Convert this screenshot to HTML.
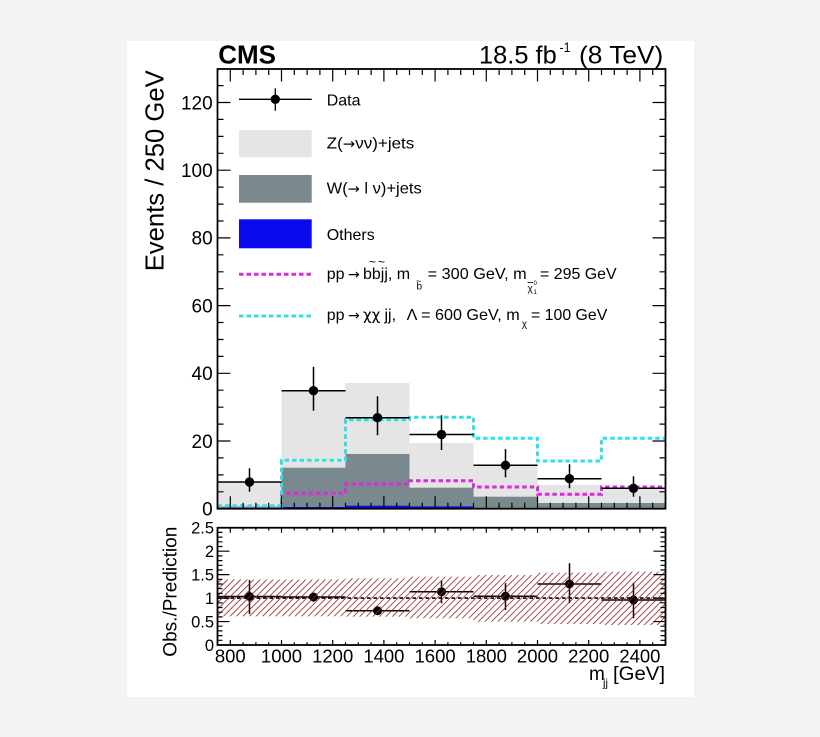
<!DOCTYPE html>
<html><head><meta charset="utf-8"><style>
html,body{margin:0;padding:0;background:#f3f3f3;}
svg{display:block;font-family:"Liberation Sans","DejaVu Sans",sans-serif;}
</style></head><body>
<svg width="820" height="737" viewBox="0 0 820 737" xmlns="http://www.w3.org/2000/svg">
<defs>
<pattern id="hatch" width="4.6" height="4.6" patternUnits="userSpaceOnUse" patternTransform="rotate(45)">
<line x1="0" y1="0" x2="0" y2="4.6" stroke="#8e2424" stroke-width="1.6"/>
</pattern>
</defs>
<rect x="0" y="0" width="820" height="737" fill="#f3f3f3"/>
<rect x="127" y="41" width="567" height="656" fill="#ffffff"/>

<!-- ===== MAIN PLOT ===== -->
<g fill="#e5e5e5">
<rect x="217.5" y="482.5" width="64" height="26.2"/>
<rect x="281.5" y="390.3" width="64" height="118.4"/>
<rect x="345.5" y="383" width="64" height="125.7"/>
<rect x="409.5" y="443" width="64" height="65.7"/>
<rect x="473.5" y="465.5" width="64" height="43.2"/>
<rect x="537.5" y="485" width="64" height="23.7"/>
<rect x="601.5" y="489" width="64" height="19.7"/>
</g>
<g fill="#7a898e">
<rect x="217.5" y="506.5" width="64" height="2.2"/>
<rect x="281.5" y="467.7" width="64" height="41"/>
<rect x="345.5" y="454" width="64" height="54.7"/>
<rect x="409.5" y="487.7" width="64" height="21"/>
<rect x="473.5" y="496.7" width="64" height="12"/>
<rect x="537.5" y="503" width="64" height="5.7"/>
<rect x="601.5" y="503" width="64" height="5.7"/>
</g>
<g fill="#0a0ae8">
<rect x="281.5" y="507" width="64" height="1.7"/>
<rect x="345.5" y="505.7" width="64" height="3"/>
<rect x="409.5" y="506.4" width="64" height="2.3"/>
</g>
<path d="M217.5,507.2 H281.5 V493.3 H345.5 V483.7 H409.5 V480.7 H473.5 V487 H537.5 V494.3 H601.5 V487 H665.5" fill="none" stroke="#dc2adc" stroke-width="3" stroke-dasharray="4.5 3"/>
<path d="M217.5,505.7 H281.5 V460.3 H345.5 V419.7 H409.5 V417.3 H473.5 V438.3 H537.5 V461 H601.5 V438.3 H665.5" fill="none" stroke="#2fe0e6" stroke-width="3" stroke-dasharray="4.5 3"/>

<g stroke="#000" stroke-width="1.5">
<path d="M217.5,482 H281.5 M249.5,468.3 V491.7
M281.5,390.7 H345.5 M313.5,366.7 V410.7
M345.5,417.7 H409.5 M377.5,396.3 V435.3
M409.5,434.5 H473.5 M441.5,415.3 V450
M473.5,465.3 H537.5 M505.5,449 V477.3
M537.5,478.7 H601.5 M569.5,464.3 V488.3
M601.5,488.3 H665.5 M633.5,476.3 V496.7" fill="none"/>
</g>
<g fill="#000">
<circle cx="249.5" cy="482" r="4.7"/>
<circle cx="313.5" cy="390.7" r="4.7"/>
<circle cx="377.5" cy="417.7" r="4.7"/>
<circle cx="441.5" cy="434.5" r="4.7"/>
<circle cx="505.5" cy="465.3" r="4.7"/>
<circle cx="569.5" cy="478.7" r="4.7"/>
<circle cx="633.5" cy="488.3" r="4.7"/>
</g>

<g stroke="#000" stroke-width="1.2" fill="none">
<path d="M230.3,508.7V496.2 M281.5,508.7V496.2 M332.7,508.7V496.2 M383.9,508.7V496.2 M435.1,508.7V496.2 M486.3,508.7V496.2 M537.5,508.7V496.2 M588.7,508.7V496.2 M639.9,508.7V496.2
M230.3,69V81.5 M281.5,69V81.5 M332.7,69V81.5 M383.9,69V81.5 M435.1,69V81.5 M486.3,69V81.5 M537.5,69V81.5 M588.7,69V81.5 M639.9,69V81.5"/>
<path d="M243.1,508.7V502.7 M255.9,508.7V502.7 M268.7,508.7V502.7 M294.3,508.7V502.7 M307.1,508.7V502.7 M319.9,508.7V502.7 M345.5,508.7V502.7 M358.3,508.7V502.7 M371.1,508.7V502.7 M396.7,508.7V502.7 M409.5,508.7V502.7 M422.3,508.7V502.7 M447.9,508.7V502.7 M460.7,508.7V502.7 M473.5,508.7V502.7 M499.1,508.7V502.7 M511.9,508.7V502.7 M524.7,508.7V502.7 M550.3,508.7V502.7 M563.1,508.7V502.7 M575.9,508.7V502.7 M601.5,508.7V502.7 M614.3,508.7V502.7 M627.1,508.7V502.7 M652.7,508.7V502.7
M243.1,69V75 M255.9,69V75 M268.7,69V75 M294.3,69V75 M307.1,69V75 M319.9,69V75 M345.5,69V75 M358.3,69V75 M371.1,69V75 M396.7,69V75 M409.5,69V75 M422.3,69V75 M447.9,69V75 M460.7,69V75 M473.5,69V75 M499.1,69V75 M511.9,69V75 M524.7,69V75 M550.3,69V75 M563.1,69V75 M575.9,69V75 M601.5,69V75 M614.3,69V75 M627.1,69V75 M652.7,69V75"/>
<path d="M217.5,441H230.5 M217.5,373.3H230.5 M217.5,305.6H230.5 M217.5,237.9H230.5 M217.5,170.2H230.5 M217.5,102.5H230.5
M665.5,441H652.5 M665.5,373.3H652.5 M665.5,305.6H652.5 M665.5,237.9H652.5 M665.5,170.2H652.5 M665.5,102.5H652.5"/>
<path d="M217.5,491.8H223.5 M217.5,474.9H223.5 M217.5,457.9H223.5 M217.5,424.1H223.5 M217.5,407.2H223.5 M217.5,390.2H223.5 M217.5,356.4H223.5 M217.5,339.5H223.5 M217.5,322.5H223.5 M217.5,288.7H223.5 M217.5,271.8H223.5 M217.5,254.8H223.5 M217.5,221H223.5 M217.5,204.1H223.5 M217.5,187.1H223.5 M217.5,153.3H223.5 M217.5,136.4H223.5 M217.5,119.4H223.5 M217.5,85.6H223.5
M665.5,491.8H659.5 M665.5,474.9H659.5 M665.5,457.9H659.5 M665.5,424.1H659.5 M665.5,407.2H659.5 M665.5,390.2H659.5 M665.5,356.4H659.5 M665.5,339.5H659.5 M665.5,322.5H659.5 M665.5,288.7H659.5 M665.5,271.8H659.5 M665.5,254.8H659.5 M665.5,221H659.5 M665.5,204.1H659.5 M665.5,187.1H659.5 M665.5,153.3H659.5 M665.5,136.4H659.5 M665.5,119.4H659.5 M665.5,85.6H659.5"/>
</g>
<rect x="217.5" y="69" width="448" height="439.7" fill="none" stroke="#000" stroke-width="1.8"/>

<!-- legend -->
<path d="M239,99.3 H311.7 M275.3,88.3 V110.7" stroke="#000" stroke-width="1.3" fill="none"/>
<circle cx="275.3" cy="99.3" r="4.7" fill="#000"/>
<rect x="239" y="130" width="72.7" height="27.3" fill="#e5e5e5"/>
<rect x="239" y="175" width="72.7" height="27.7" fill="#7a898e"/>
<rect x="239" y="219.3" width="72.7" height="29" fill="#0a0aee"/>
<line x1="239" y1="274.3" x2="311.7" y2="274.3" stroke="#dc2adc" stroke-width="3" stroke-dasharray="4.5 3"/>
<line x1="239" y1="316" x2="311.7" y2="316" stroke="#2fe0e6" stroke-width="3" stroke-dasharray="4.5 3"/>
<g font-size="16" fill="#000">
<text x="326.7" y="105.5">Data</text>
<text x="326.7" y="148.5" textLength="87.6" lengthAdjust="spacingAndGlyphs">Z(<tspan font-family="DejaVu Sans" font-size="14">→</tspan>νν)+jets</text>
<text x="326.7" y="193.5" textLength="95" lengthAdjust="spacingAndGlyphs">W(<tspan font-family="DejaVu Sans" font-size="14">→</tspan> l ν)+jets</text>
<text x="326.7" y="240">Others</text>
<text x="326.7" y="279">pp</text>
<text x="348" y="279" font-family="DejaVu Sans" font-size="14">→</text>
<text x="363" y="279">bbjj,</text>
<text x="396.7" y="279">m</text>
<text x="427.7" y="279" textLength="99" lengthAdjust="spacingAndGlyphs">= 300 GeV, m</text>
<text x="540" y="279" textLength="76.7" lengthAdjust="spacingAndGlyphs">= 295 GeV</text>
<text x="326.7" y="320">pp</text>
<text x="348" y="320" font-family="DejaVu Sans" font-size="14">→</text>
<text x="363" y="320" font-family="DejaVu Sans" font-size="15">χχ</text>
<text x="384.5" y="320">jj,</text>
<text x="406.7" y="320" textLength="113" lengthAdjust="spacingAndGlyphs">Λ = 600 GeV, m</text>
<text x="531" y="320" textLength="76.3" lengthAdjust="spacingAndGlyphs">= 100 GeV</text>
</g>
<g fill="#000">
<text x="369" y="266" font-size="12">~</text>
<text x="378" y="266" font-size="12">~</text>
<text x="416.5" y="289.5" font-size="10">b</text>
<text x="416" y="284" font-size="9">~</text>
<text x="527.5" y="291.5" font-size="10">χ</text>
<line x1="527.5" y1="282.5" x2="533" y2="282.5" stroke="#000" stroke-width="0.8"/>
<text x="533.5" y="294" font-size="6">1</text>
<text x="533.5" y="285" font-size="6">0</text>
<text x="521.7" y="327" font-size="10">χ</text>
</g>

<!-- header -->
<text x="218.3" y="63.3" font-weight="bold" font-size="26" textLength="57.7" lengthAdjust="spacingAndGlyphs">CMS</text>
<text x="479" y="63.3" font-size="25" textLength="77.7" lengthAdjust="spacingAndGlyphs">18.5 fb</text>
<text x="559.5" y="52" font-size="14" textLength="11" lengthAdjust="spacingAndGlyphs">-1</text>
<text x="579" y="63.3" font-size="25" textLength="84.3" lengthAdjust="spacingAndGlyphs">(8 TeV)</text>

<g font-size="19" text-anchor="end" fill="#000">
<text x="212.7" y="515.5">0</text>
<text x="212.7" y="447.8">20</text>
<text x="212.7" y="380.1">40</text>
<text x="212.7" y="312.4">60</text>
<text x="212.7" y="244.7">80</text>
<text x="212.7" y="177">100</text>
<text x="212.7" y="109.3">120</text>
</g>
<text transform="translate(163.5,170.8) rotate(-90)" text-anchor="middle" font-size="25.6" textLength="201" lengthAdjust="spacingAndGlyphs">Events / 250 GeV</text>

<!-- ===== RATIO PANEL ===== -->
<g fill="#000" stroke="#000" stroke-width="1.5">
<path d="M217.5,596.5 H281.5 M249.5,580 V614
M281.5,597 H345.5 M313.5,593.3 V601.7
M345.5,610.7 H409.5 M377.5,606.7 V615
M409.5,591.7 H473.5 M441.5,580.7 V603.3
M473.5,596.3 H537.5 M505.5,583.3 V610
M537.5,584 H601.5 M569.5,563.3 V603.3
M601.5,600 H665.5 M633.5,582.7 V618.3" fill="none"/>
</g>
<g fill="#000">
<circle cx="249.5" cy="596.5" r="4.5"/>
<circle cx="313.5" cy="597" r="4.5"/>
<circle cx="377.5" cy="610.7" r="4.5"/>
<circle cx="441.5" cy="591.7" r="4.5"/>
<circle cx="505.5" cy="596.3" r="4.5"/>
<circle cx="569.5" cy="584" r="4.5"/>
<circle cx="633.5" cy="600" r="4.5"/>
</g>
<line x1="217.5" y1="598.1" x2="665.5" y2="598.1" stroke="#000" stroke-width="1.6" stroke-dasharray="3.5 3"/>
<g fill="url(#hatch)">
<rect x="217.5" y="579.5" width="128" height="36.8"/>
<rect x="345.5" y="578.3" width="64" height="38.4"/>
<rect x="409.5" y="576.7" width="64" height="41.6"/>
<rect x="473.5" y="575" width="64" height="46.7"/>
<rect x="537.5" y="572.7" width="64" height="51.3"/>
<rect x="601.5" y="571.7" width="64" height="53.3"/>
</g>

<g stroke="#000" stroke-width="1.2" fill="none">
<path d="M230.3,645V640 M281.5,645V640 M332.7,645V640 M383.9,645V640 M435.1,645V640 M486.3,645V640 M537.5,645V640 M588.7,645V640 M639.9,645V640
M230.3,527.75V532.75 M281.5,527.75V532.75 M332.7,527.75V532.75 M383.9,527.75V532.75 M435.1,527.75V532.75 M486.3,527.75V532.75 M537.5,527.75V532.75 M588.7,527.75V532.75 M639.9,527.75V532.75"/>
<path d="M243.1,645V642.3 M255.9,645V642.3 M268.7,645V642.3 M294.3,645V642.3 M307.1,645V642.3 M319.9,645V642.3 M345.5,645V642.3 M358.3,645V642.3 M371.1,645V642.3 M396.7,645V642.3 M409.5,645V642.3 M422.3,645V642.3 M447.9,645V642.3 M460.7,645V642.3 M473.5,645V642.3 M499.1,645V642.3 M511.9,645V642.3 M524.7,645V642.3 M550.3,645V642.3 M563.1,645V642.3 M575.9,645V642.3 M601.5,645V642.3 M614.3,645V642.3 M627.1,645V642.3 M652.7,645V642.3
M243.1,527.75V530.5 M255.9,527.75V530.5 M268.7,527.75V530.5 M294.3,527.75V530.5 M307.1,527.75V530.5 M319.9,527.75V530.5 M345.5,527.75V530.5 M358.3,527.75V530.5 M371.1,527.75V530.5 M396.7,527.75V530.5 M409.5,527.75V530.5 M422.3,527.75V530.5 M447.9,527.75V530.5 M460.7,527.75V530.5 M473.5,527.75V530.5 M499.1,527.75V530.5 M511.9,527.75V530.5 M524.7,527.75V530.5 M550.3,527.75V530.5 M563.1,527.75V530.5 M575.9,527.75V530.5 M601.5,527.75V530.5 M614.3,527.75V530.5 M627.1,527.75V530.5 M652.7,527.75V530.5"/>
<path d="M217.5,621.55H229.5 M217.5,598.1H229.5 M217.5,574.65H229.5 M217.5,551.2H229.5
M665.5,621.55H653.5 M665.5,598.1H653.5 M665.5,574.65H653.5 M665.5,551.2H653.5"/>
<path d="M217.5,640.3H222.5 M217.5,635.6H222.5 M217.5,630.9H222.5 M217.5,626.2H222.5 M217.5,616.9H222.5 M217.5,612.2H222.5 M217.5,607.5H222.5 M217.5,602.8H222.5 M217.5,593.4H222.5 M217.5,588.7H222.5 M217.5,584H222.5 M217.5,579.3H222.5 M217.5,570H222.5 M217.5,565.3H222.5 M217.5,560.6H222.5 M217.5,555.9H222.5 M217.5,546.5H222.5 M217.5,541.8H222.5 M217.5,537.1H222.5 M217.5,532.4H222.5
M665.5,640.3H660.5 M665.5,635.6H660.5 M665.5,630.9H660.5 M665.5,626.2H660.5 M665.5,616.9H660.5 M665.5,612.2H660.5 M665.5,607.5H660.5 M665.5,602.8H660.5 M665.5,593.4H660.5 M665.5,588.7H660.5 M665.5,584H660.5 M665.5,579.3H660.5 M665.5,570H660.5 M665.5,565.3H660.5 M665.5,560.6H660.5 M665.5,555.9H660.5 M665.5,546.5H660.5 M665.5,541.8H660.5 M665.5,537.1H660.5 M665.5,532.4H660.5"/>
</g>
<rect x="217.5" y="527.75" width="448" height="117.25" fill="none" stroke="#000" stroke-width="1.8"/>

<g font-size="16.5" text-anchor="end" fill="#000">
<text x="214" y="651">0</text>
<text x="214" y="627.5">0.5</text>
<text x="214" y="604">1</text>
<text x="214" y="580.6">1.5</text>
<text x="214" y="557.2">2</text>
<text x="214" y="533.7">2.5</text>
</g>
<text transform="translate(176.5,591.7) rotate(-90)" text-anchor="middle" font-size="19" textLength="130" lengthAdjust="spacingAndGlyphs">Obs./Prediction</text>

<g font-size="18.5" text-anchor="middle" fill="#000">
<text x="230.3" y="662.5">800</text>
<text x="281.5" y="662.5">1000</text>
<text x="332.7" y="662.5">1200</text>
<text x="383.9" y="662.5">1400</text>
<text x="435.1" y="662.5">1600</text>
<text x="486.3" y="662.5">1800</text>
<text x="537.5" y="662.5">2000</text>
<text x="588.7" y="662.5">2200</text>
<text x="639.9" y="662.5">2400</text>
</g>
<text x="589" y="680" font-size="19">m</text>
<text x="603" y="686.5" font-size="11">jj</text>
<text x="613" y="680" font-size="19" textLength="52" lengthAdjust="spacingAndGlyphs">[GeV]</text>
</svg>
</body></html>
